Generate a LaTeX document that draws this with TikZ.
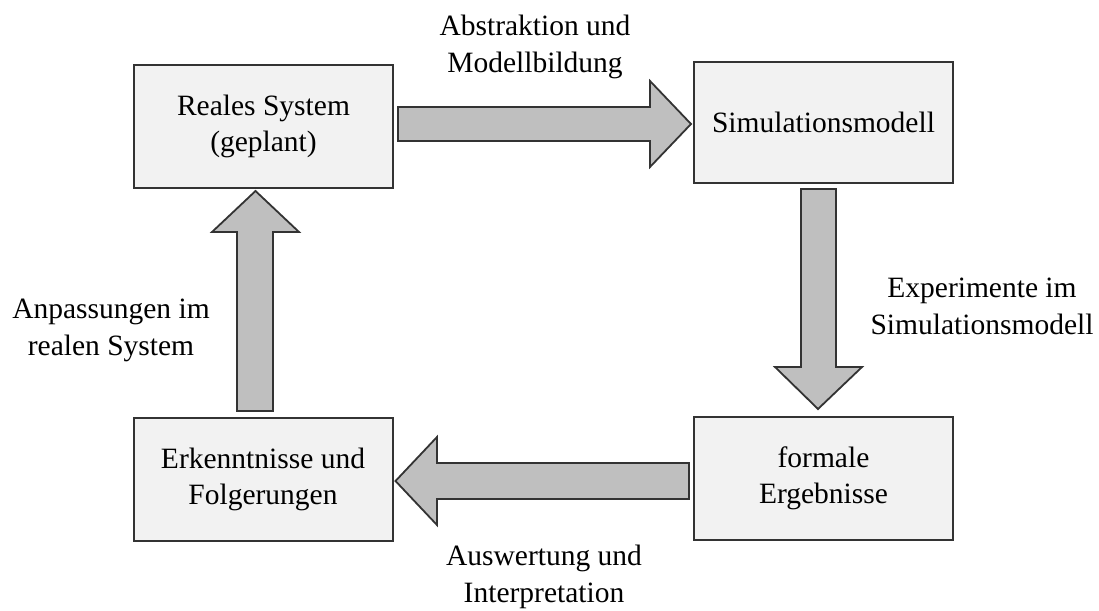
\documentclass[tikz,border=0pt]{standalone}
\usepackage{fontspec}
\setmainfont{Liberation Serif}
\usetikzlibrary{calc}
\definecolor{boxfill}{HTML}{F2F2F2}
\definecolor{arrowfill}{HTML}{BFBFBF}
\definecolor{edge}{HTML}{333333}
\begin{document}
\begin{tikzpicture}[x=1pt,y=-1pt,
  box/.style={draw=edge, line width=2pt, fill=boxfill, align=center,
    inner sep=0pt, minimum width=259pt, minimum height=123pt,
    font=\fontsize{29.5}{36.5}\selectfont},
  blockarrow/.style={draw=edge, line width=1.8pt, fill=arrowfill, line join=miter},
  lbl/.style={align=center, inner sep=0pt, font=\fontsize{29.5}{37}\selectfont}]
\useasboundingbox (0,0) rectangle (1099,610);

% process stages
\node[box] (real) at (263.5,126.5) {Reales System\\(geplant)};
\node[box, minimum height=121pt] (model) at (823.5,122.5) {Simulationsmodell};
\node[box] (results) at (823.5,478.5) {formale\\Ergebnisse};
\node[box] (insight) at (263,479.5) {Erkenntnisse und\\Folgerungen};

% block arrows between the stages
\coordinate (a1s) at ($(real.east)+(4,-2.5)$);
\coordinate (a1t) at ($(model.west)+(-2,1.5)$);
\draw[blockarrow] (a1s |- 0,107) -- (650,107) -- (650,81) -- (a1t) -- (650,167) -- (650,141) -- (a1s |- 0,141) -- cycle;

\coordinate (a2s) at ($(model.south)+(-5,5)$);
\coordinate (a2t) at ($(results.north)+(-5.5,-7)$);
\draw[blockarrow] (801,0 |- a2s) -- (801,367) -- (775,367) -- (a2t) -- (862,367) -- (836,367) -- (836,0 |- a2s) -- cycle;

\coordinate (a3s) at ($(results.west)+(-4,2.5)$);
\coordinate (a3t) at ($(insight.east)+(2,1.5)$);
\draw[blockarrow] (a3s |- 0,463) -- (437,463) -- (437,437) -- (a3t) -- (437,525) -- (437,499) -- (a3s |- 0,499) -- cycle;

\coordinate (a4s) at ($(insight.north)+(-8,-6)$);
\coordinate (a4t) at ($(real.south)+(-8,2)$);
\draw[blockarrow] (237,0 |- a4s) -- (237,232) -- (212,232) -- (a4t) -- (299,232) -- (273,232) -- (273,0 |- a4s) -- cycle;

% arrow labels
\node[lbl] (l1) at (535,46.5) {Abstraktion und\\Modellbildung};
\node[lbl] (l2) at (982,306) {Experimente im\\Simulationsmodell};
\node[lbl] (l3) at (544,576.5) {Auswertung und\\Interpretation};
\node[lbl] (l4) at (111,330) {Anpassungen im\\realen System};
\end{tikzpicture}
\end{document}
